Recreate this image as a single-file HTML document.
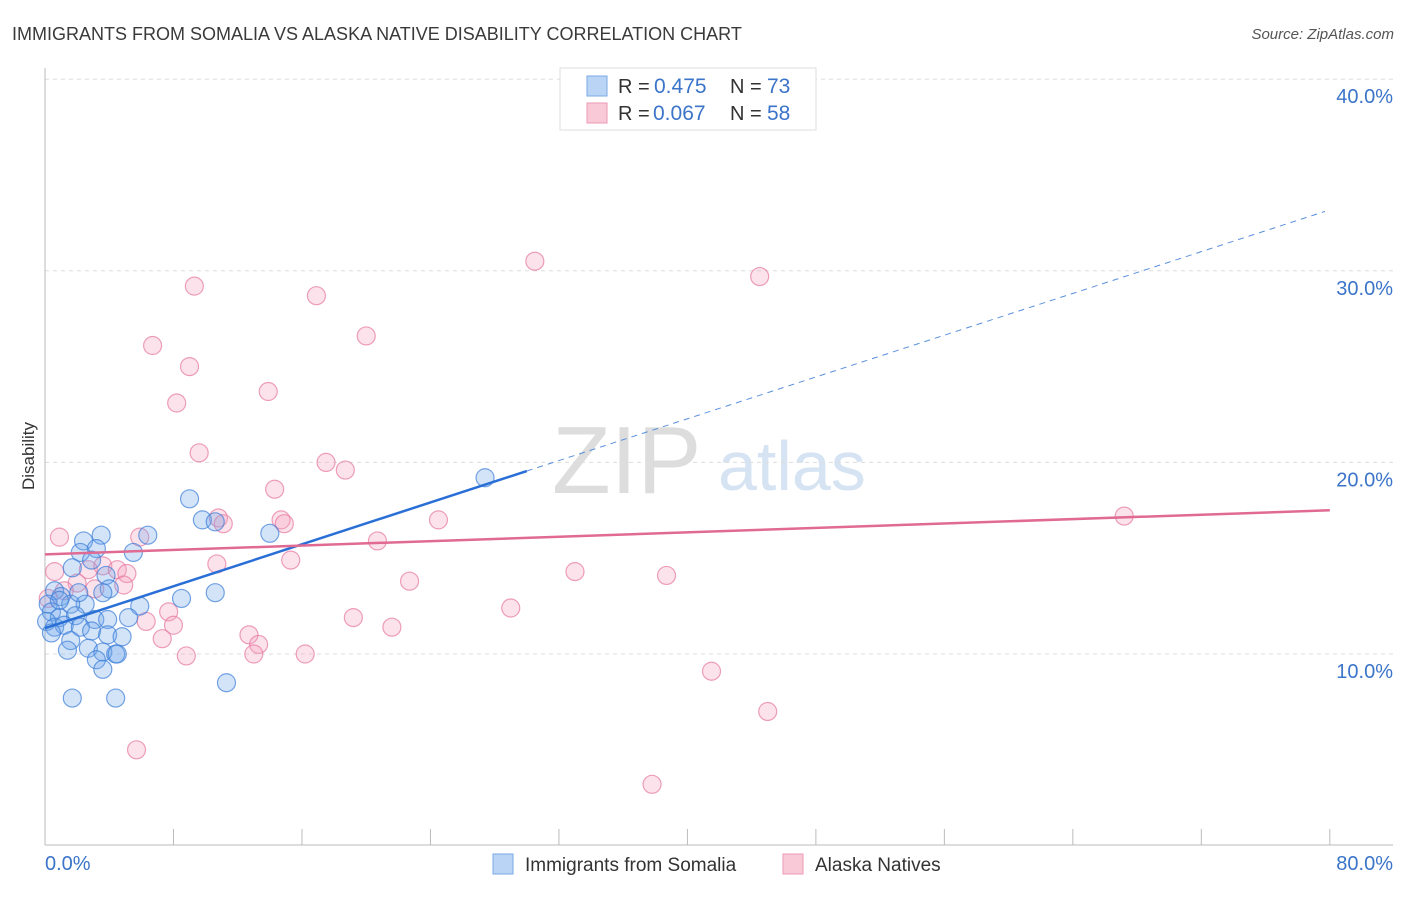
<!DOCTYPE html>
<html><head><meta charset="utf-8"><style>
body{margin:0;background:#fff;font-family:"Liberation Sans",sans-serif;}
svg text{font-family:"Liberation Sans",sans-serif;}
</style></head><body>
<svg width="1406" height="892" xmlns="http://www.w3.org/2000/svg">
<text x="12" y="40" font-size="18" fill="#3a3a3a">IMMIGRANTS FROM SOMALIA VS ALASKA NATIVE DISABILITY CORRELATION CHART</text>
<text x="1394" y="39" font-size="15" fill="#555" font-style="italic" text-anchor="end">Source: ZipAtlas.com</text>
<text x="34" y="456" font-size="17" fill="#333" text-anchor="middle" transform="rotate(-90 34 456)">Disability</text>
<g>
<text x="552" y="493" font-size="96" font-family="Liberation Serif" fill="#ddd">ZIP</text>
<text x="718" y="490" font-size="70" fill="#d5e3f3">atlas</text>
</g>
<g id="grid"></g>
<g id="axes"></g>
<g id="pts"></g>
<g id="lines"></g>
<g>
<rect x="560" y="68" width="256" height="62" fill="#fff" stroke="#ddd"/>
<rect x="587" y="76" width="20" height="20" fill="#b9d4f5" stroke="#7aa9e6"/>
<text x="618" y="93" font-size="20" fill="#333">R =</text>
<text x="654" y="93" font-size="21" fill="#3b74c9">0.475</text>
<text x="730" y="93" font-size="20" fill="#333">N =</text>
<text x="767" y="93" font-size="21" fill="#3b74c9">73</text>
<rect x="587" y="103" width="20" height="20" fill="#f9c9d8" stroke="#ec9ab4"/>
<text x="618" y="120" font-size="20" fill="#333">R =</text>
<text x="653" y="120" font-size="21" fill="#3b74c9">0.067</text>
<text x="730" y="120" font-size="20" fill="#333">N =</text>
<text x="767" y="120" font-size="21" fill="#3b74c9">58</text>
</g>
<g>
<rect x="493" y="854" width="20" height="20" fill="#b9d4f5" stroke="#7aa9e6"/>
<text x="525" y="871" font-size="19" fill="#333">Immigrants from Somalia</text>
<rect x="783" y="854" width="20" height="20" fill="#f9c9d8" stroke="#ec9ab4"/>
<text x="815" y="871" font-size="19" fill="#333">Alaska Natives</text>
</g>
</svg>
<script>
const yTicks=[10,20,30,40];
const yTickLabels=["10.0%","20.0%","30.0%","40.0%"];
const xTicks=[0,8,16,24,32,40,48,56,64,72,80];
const blueX=[27.4,9.0,9.8,10.6,6.4,14.0,3.5,2.4,3.2,2.2,5.5,1.7,2.9,3.8,4.0,3.6,10.6,8.5,5.9,0.6,1.0,0.2,2.5,1.6,0.4,0.9,1.9,3.1,3.9,5.2,0.1,0.6,1.2,2.2,2.9,3.9,4.8,0.4,1.6,2.7,3.6,4.4,1.4,3.2,3.6,11.3,1.7,4.4,4.5,0.9,2.1];
const blueY=[19.2,18.1,17.0,16.9,16.2,16.3,16.2,15.9,15.5,15.3,15.3,14.5,14.9,14.1,13.4,13.2,13.2,12.9,12.5,13.3,13.0,12.6,12.6,12.6,12.2,11.9,12.0,11.8,11.8,11.9,11.7,11.4,11.5,11.4,11.2,11.0,10.9,11.1,10.7,10.3,10.1,10.0,10.2,9.7,9.2,8.5,7.7,7.7,10.0,12.8,13.2];
const pinkX=[30.5,44.5,9.3,16.9,20.0,6.7,9.0,13.9,8.2,9.6,17.5,18.7,14.3,67.2,24.5,10.8,11.1,14.7,14.9,0.9,5.9,20.7,10.7,15.3,33.0,38.7,0.6,2.7,3.6,4.5,5.1,2.0,1.2,4.9,22.7,29.0,7.7,19.2,6.3,8.0,21.6,12.7,7.3,13.3,8.8,13.0,16.2,41.5,45.0,5.7,37.8,0.2,3.1];
const pinkY=[30.5,29.7,29.2,28.7,26.6,26.1,25.0,23.7,23.1,20.5,20.0,19.6,18.6,17.2,17.0,17.1,16.8,17.0,16.8,16.1,16.1,15.9,14.7,14.9,14.3,14.1,14.3,14.4,14.6,14.4,14.2,13.7,13.3,13.6,13.8,12.4,12.2,11.9,11.7,11.5,11.4,11.0,10.8,10.5,9.9,10.0,10.0,9.1,7.0,5.0,3.2,12.9,13.4];
const blueTrend=[[0,11.35],[30,19.55],[79.7,33.1]];
const pinkTrend=[[0,15.2],[80,17.5]];
const NS='http://www.w3.org/2000/svg';
const X=v=>45+v*16.06, Y=v=>845.6-v*19.16;
function mk(t,a,p){const e=document.createElementNS(NS,t);for(const k in a)e.setAttribute(k,a[k]);p.appendChild(e);return e;}
const g=document.getElementById('grid'),ax=document.getElementById('axes'),pts=document.getElementById('pts'),ln=document.getElementById('lines');
yTicks.forEach((t,i)=>{
 const l=mk('line',{x1:45,x2:1393,y1:Y(t),y2:Y(t),stroke:'#ddd','stroke-dasharray':'4,4'},g);
 
 
 const tx=mk('text',{x:1393,y:Y(t)+24,'font-size':20,fill:'#3b74c9','text-anchor':'end'},ax);
 tx.textContent=yTickLabels[i];
 
 
});
const yl=mk('line',{x1:45,x2:45,y1:68,y2:845,stroke:'#bbb'},ax);


const xl=mk('line',{x1:45,x2:1393,y1:845,y2:845,stroke:'#bbb'},ax);


xTicks.forEach(t=>{
 const l=mk('line',{x1:X(t),x2:X(t),y1:829,y2:845,stroke:'#bbb'},ax);
 
 
});
const x0=mk('text',{x:45,y:870,'font-size':20,fill:'#3b74c9'},ax);x0.textContent='0.0%';


const x1=mk('text',{x:1393,y:870,'font-size':20,fill:'#3b74c9','text-anchor':'end'},ax);x1.textContent='80.0%';


pinkX.forEach((v,i)=>{
 const c=mk('circle',{cx:X(v),cy:Y(pinkY[i]),r:9,fill:'rgba(245,160,190,0.3)',stroke:'rgba(230,120,160,0.7)','stroke-width':1.2},pts);
 
 
});
blueX.forEach((v,i)=>{
 const c=mk('circle',{cx:X(v),cy:Y(blueY[i]),r:9,fill:'rgba(110,165,235,0.3)',stroke:'rgba(60,125,215,0.7)','stroke-width':1.2},pts);
 
 
});
const b1=mk('line',{x1:X(blueTrend[0][0]),y1:Y(blueTrend[0][1]),x2:X(blueTrend[1][0]),y2:Y(blueTrend[1][1]),stroke:'#2a6fd6','stroke-width':2.5},ln);


const b2=mk('line',{x1:X(blueTrend[1][0]),y1:Y(blueTrend[1][1]),x2:X(blueTrend[2][0]),y2:Y(blueTrend[2][1]),stroke:'#5a90dc','stroke-width':1,'stroke-dasharray':'6,5'},ln);


const p1=mk('line',{x1:X(pinkTrend[0][0]),y1:Y(pinkTrend[0][1]),x2:X(pinkTrend[1][0]),y2:Y(pinkTrend[1][1]),stroke:'#e06a92','stroke-width':2.5},ln);


</script>
</body></html>
